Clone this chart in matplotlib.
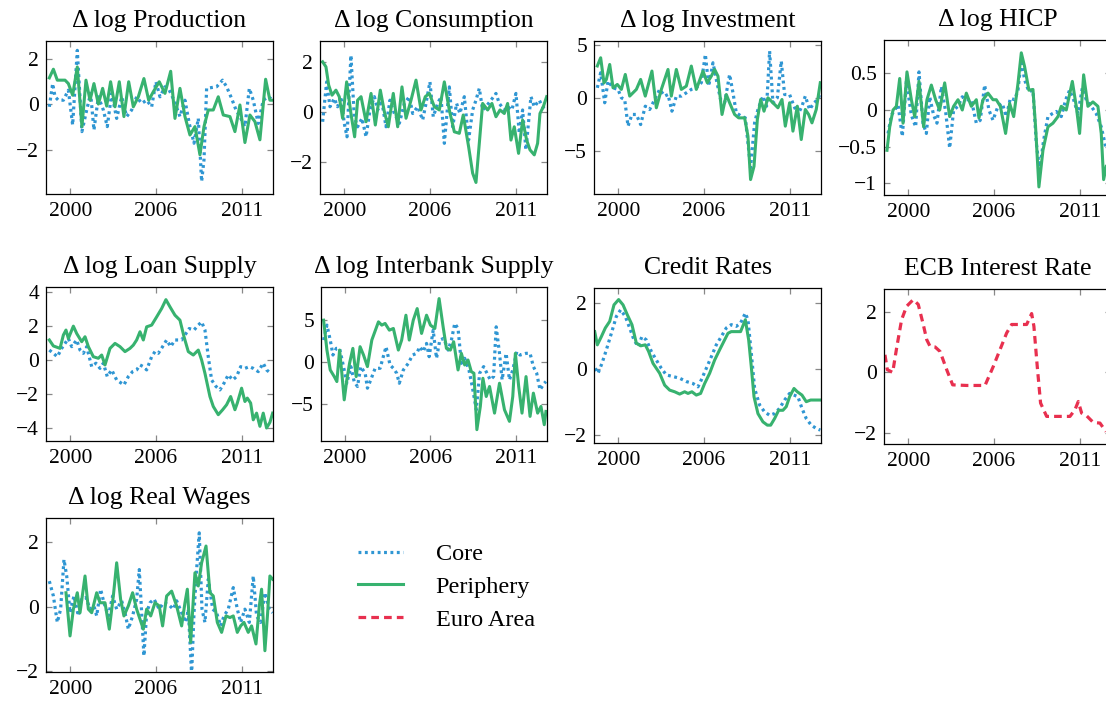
import matplotlib
matplotlib.use("Agg")
import matplotlib.pyplot as plt
from matplotlib.lines import Line2D
from matplotlib.ticker import FuncFormatter

# time axis: months since Jan 1999; ticks are labelled at these positions
TICK_POS = [12, 84, 156]
TICK_LABELS = ["2000", "2006", "2011"]

# (month, value) pairs
prod_core = [(-5.6, -0.12), (-2.8, 0.90), (-0.8, 0.32), (2.0, 0.17), (6.2, 0.17), (10.4, 0.61), (14.0, -0.92),
             (17.9, 2.36), (21.8, -1.21), (25.8, -0.26), (29.1, 0.47), (31.9, -1.14), (35.6, 0.32), (39.8, -0.26),
             (43.1, -0.99), (46.8, 0.47), (51.0, -0.63), (55.2, 0.32), (59.4, -0.55), (63.6, -0.26), (67.8, 0.32),
             (72.0, 0.03), (76.2, 0.17), (80.4, -0.12), (84.0, 0.98), (87.4, 0.32), (91.6, 0.76), (95.2, 0.61),
             (99.2, 0.17), (104.2, -0.55), (108.4, 0.17), (112.0, -0.85), (116.0, -1.72), (119.6, -0.63),
             (122.4, -3.40), (124.4, -2.45), (126.6, 0.69), (135.0, 0.76), (140.0, 1.05), (143.4, 0.76),
             (147.6, 0.25), (151.3, -0.26), (154.6, -0.55), (158.8, -0.99), (162.5, 0.69), (165.8, 0.17),
             (170.0, -0.85), (174.2, 0.17), (178.4, 0.32), (182.6, 0.17)]
prod_peri = [(-5.6, 1.15), (-2.2, 1.53), (1.1, 1.05), (7.6, 1.05), (10.4, 0.90), (14.0, 0.39), (17.9, 1.63),
             (21.8, -0.99), (25.2, 1.05), (28.6, 0.17), (31.9, 0.90), (35.6, 0.0), (39.2, 0.69), (42.6, -0.09),
             (45.9, 0.98), (49.6, -0.12), (53.2, 0.98), (57.1, -0.55), (61.1, 0.98), (65.0, -0.12), (69.2, 0.32),
             (73.9, 1.12), (77.9, 0.17), (81.8, 0.54), (86.8, 0.98), (91.6, 0.47), (96.4, 1.44), (100.0, -0.63),
             (104.2, 0.69), (108.4, -0.55), (112.6, -1.36), (116.8, -0.99), (121.0, -2.23), (124.4, -0.99),
             (128.0, -0.26), (132.2, -0.26), (136.4, 0.32), (140.6, -0.48), (146.2, -0.55), (150.4, -1.21),
             (154.6, -0.04), (158.8, -1.69), (163.0, -0.48), (167.2, -0.77), (171.4, -1.57), (176.2, 1.09),
             (179.8, 0.17), (182.6, 0.17)]

cons_core = [(-6.2, -0.40), (-2.8, 1.19), (0.0, 0.20), (3.6, 0.53), (6.4, 0.20), (9.2, 0.60), (12.0, -0.46),
             (14.3, -1.0), (17.6, 2.25), (20.4, -0.20), (23.2, -0.60), (26.9, -0.26), (30.3, -1.0), (33.6, 0.07),
             (37.3, 0.60), (40.1, 0.07), (43.4, 0.46), (47.1, -0.60), (50.4, 0.46), (54.1, -0.07), (58.3, -0.46),
             (62.5, 0.33), (66.7, 0.60), (69.5, -0.07), (73.7, 0.20), (77.9, -0.33), (80.7, 0.33), (84.0, 1.19),
             (86.8, -0.20), (90.5, 0.33), (93.3, 0.60), (96.1, -1.26), (100.3, 0.99), (103.1, -0.60),
             (106.4, 0.33), (109.2, -0.07), (112.9, 0.60), (116.5, -1.13), (119.9, 0.07), (122.7, 0.46),
             (125.5, 0.93), (128.3, 0.07), (131.1, 0.20), (135.3, 0.46), (139.5, 0.73), (142.3, 0.33),
             (146.5, 0.07), (149.3, 0.20), (152.9, 0.07), (156.3, 0.73), (159.1, -0.86), (161.9, 0.07),
             (164.7, -1.52), (168.9, 0.60), (171.7, 0.20), (175.9, 0.46), (178.7, 0.20), (182.1, 0.07)]
cons_peri = [(-6.2, 1.99), (-3.4, 1.79), (-1.1, 1.06), (1.7, 0.66), (5.0, 0.86), (7.8, 0.60), (10.6, -0.26),
             (14.0, 1.19), (17.6, -0.07), (20.7, -1.0), (23.2, 0.46), (26.1, 0.60), (30.3, -0.40), (34.5, 0.73),
             (38.1, -0.53), (42.3, 0.86), (45.7, 0.0), (49.0, -0.60), (53.2, 0.73), (56.9, -0.60), (60.5, 0.99),
             (63.9, -0.26), (68.1, 0.46), (72.3, 1.26), (76.5, 0.07), (80.1, 0.60), (83.5, 0.73), (87.7, 0.20),
             (91.9, 0.07), (96.1, 1.19), (100.3, 0.07), (104.5, -0.80), (108.7, -0.86), (112.0, -0.13),
             (116.5, -1.39), (119.9, -2.45), (122.7, -2.82), (125.5, -1.26), (128.3, 0.33), (132.5, 0.07),
             (136.1, 0.33), (139.5, -0.20), (142.9, 0.07), (146.5, -0.07), (149.3, 0.33), (152.1, -1.13),
             (154.9, -0.60), (158.5, -1.66), (161.9, -0.33), (165.3, -1.13), (168.1, -1.52), (171.7, -1.72),
             (174.5, -1.26), (176.5, -0.07), (179.3, 0.20), (182.1, 0.60)]

inv_core = [(-5.6, 0.94), (-2.8, 2.36), (0.6, -0.47), (3.4, 1.57), (7.6, 0.94), (11.8, 0.79), (14.6, 0.0),
            (17.4, -0.16), (20.2, -2.67), (23.5, -1.57), (27.2, -1.57), (30.8, -2.52), (34.7, -0.79),
            (38.4, -1.10), (42.6, -0.16), (46.8, 0.79), (51.0, 0.16), (53.8, 0.31), (57.1, -1.26), (60.8, 0.16),
            (65.0, 0.16), (69.2, 0.47), (73.4, 0.79), (77.6, 0.94), (81.8, 1.42), (85.2, 4.09), (88.0, 1.10),
            (91.6, 3.30), (94.4, 1.73), (98.0, -0.16), (101.4, -0.47), (105.6, 2.20), (108.4, 0.47),
            (111.2, -1.42), (115.4, -1.73), (118.8, -1.89), (123.2, -6.6), (126.6, -2.36), (129.4, -1.10),
            (133.6, 0.16), (136.7, -0.79), (139.2, 4.4), (142.0, -0.47), (145.7, 0.0), (149.0, 3.46),
            (151.8, 0.31), (156.0, 0.31), (159.7, -0.79), (163.0, -1.57), (166.4, -0.79), (169.2, 0.16),
            (172.8, -1.10), (176.5, -0.47), (179.8, -0.16), (181.8, 0.47)]
inv_peri = [(-5.6, 3.0), (-2.8, 3.77), (0.0, 1.4), (2.0, 1.73), (4.8, 3.14), (7.6, 0.94), (11.2, 1.26),
            (14.6, 0.79), (17.9, 2.2), (21.6, 0.16), (27.2, 0.79), (30.8, 1.73), (34.7, 0.16), (40.3, 2.52),
            (44.0, -0.94), (48.2, 0.79), (53.8, 2.67), (56.6, 0.16), (60.8, 2.67), (65.0, 0.79), (69.2, 1.10),
            (73.4, 2.99), (77.6, 0.79), (83.2, 2.52), (86.8, 1.42), (90.2, 2.04), (93.0, 2.67), (95.8, 2.04),
            (99.2, -1.57), (102.8, 0.31), (105.6, -0.47), (109.8, -1.57), (113.2, -1.89), (118.2, -1.89),
            (121.0, -3.62), (123.2, -7.7), (126.1, -6.45), (128.9, -2.04), (131.7, -0.16), (134.5, -1.26),
            (137.8, 0.0), (142.0, -0.47), (146.2, -0.94), (149.6, -0.16), (152.4, -2.67), (156.0, -0.47),
            (158.8, -3.14), (162.5, -0.79), (165.8, -3.93), (169.2, -1.10), (172.0, -1.57), (174.8, -2.36),
            (178.4, -1.10), (181.8, 1.42)]

hicp_core = [(-5.0, -0.32), (-2.2, -0.07), (0.6, 0.0), (3.4, 0.07), (7.0, -0.36), (10.4, 0.39), (14.6, -0.07),
             (18.2, -0.23), (21.0, 0.52), (24.4, -0.18), (27.2, -0.32), (30.0, 0.18), (33.3, -0.07),
             (36.1, -0.18), (39.8, 0.32), (43.4, -0.02), (46.8, -0.52), (50.1, 0.0), (53.8, 0.05), (57.4, 0.18),
             (60.8, 0.14), (65.0, 0.14), (69.2, -0.18), (72.5, -0.14), (76.2, 0.34), (79.8, 0.0), (83.2, -0.14),
             (87.4, 0.05), (91.0, 0.09), (94.4, -0.09), (97.8, 0.16), (101.4, 0.14), (104.2, 0.27), (107.0, 0.68),
             (109.8, 0.41), (113.4, 0.25), (116.8, 0.27), (119.6, -0.45), (122.4, -0.82), (125.8, -0.41),
             (129.4, -0.09), (133.1, -0.05), (136.4, -0.02), (140.6, -0.09), (144.3, 0.14), (147.6, 0.27),
             (151.0, 0.14), (154.6, -0.05), (158.3, 0.30), (161.6, 0.14), (165.8, 0.05), (170.0, -0.05),
             (174.2, -0.23), (177.9, -0.50)]
hicp_peri = [(-5.9, -0.55), (-3.6, -0.23), (-0.8, 0.0), (2.0, 0.05), (4.8, 0.43), (7.6, -0.18), (10.9, 0.52),
             (14.6, 0.14), (17.4, -0.09), (21.0, 0.39), (24.9, -0.23), (27.7, 0.14), (31.4, 0.34), (35.0, 0.14),
             (38.4, 0.0), (42.6, 0.37), (46.8, -0.09), (50.1, 0.05), (53.8, 0.14), (57.4, 0.0), (60.8, 0.23),
             (65.0, 0.05), (69.2, 0.14), (71.4, -0.11), (74.8, 0.14), (79.0, 0.23), (83.2, 0.14), (86.0, 0.14),
             (89.4, 0.05), (93.8, -0.32), (97.2, 0.09), (100.6, -0.09), (104.2, 0.36), (107.0, 0.78),
             (109.8, 0.59), (113.4, 0.27), (116.8, 0.28), (119.0, -0.23), (121.8, -1.05), (125.2, -0.55),
             (129.4, -0.23), (133.6, -0.18), (137.8, -0.09), (140.6, 0.05), (144.8, 0.0), (149.9, 0.39),
             (153.2, 0.05), (156.0, -0.32), (159.4, 0.48), (163.0, 0.05), (167.2, 0.11), (171.4, 0.05),
             (174.2, -0.32), (176.2, -0.95), (178.4, -0.77)]

loan_core = [(-5.6, 0.58), (-2.2, 0.39), (1.1, 0.19), (4.8, 0.68), (7.6, 0.97), (10.4, 1.26), (13.2, 0.78),
             (17.4, 1.17), (20.2, 0.58), (23.0, 0.39), (25.8, 0.78), (30.0, -0.39), (33.6, -0.19), (37.0, -0.49),
             (39.8, -0.19), (43.1, -0.97), (46.8, -0.58), (51.0, -1.17), (57.1, -1.46), (60.8, -0.97),
             (64.4, -0.68), (67.8, -0.58), (70.6, -0.29), (73.4, -0.39), (76.2, -0.58), (80.4, 0.19), (83.2, 0.49),
             (86.0, 0.39), (89.6, 0.78), (93.0, 1.17), (96.4, 0.78), (100.0, 1.17), (105.6, 1.17), (108.4, 1.46),
             (112.0, 1.84), (116.0, 1.75), (119.6, 2.04), (122.4, 2.23), (125.2, 1.75), (128.0, 0.19),
             (130.8, -1.17), (134.5, -1.55), (137.8, -1.75), (141.2, -1.36), (144.8, -0.87), (148.5, -1.17),
             (151.8, -0.97), (155.2, -0.39), (158.8, -0.49), (162.5, -0.39), (165.8, -0.49), (170.0, -0.68),
             (174.2, -0.19), (177.0, -0.58), (180.4, -0.78)]
loan_peri = [(-5.6, 1.17), (-2.2, 0.82), (3.4, 0.68), (6.2, 1.46), (8.4, 1.75), (10.4, 1.26), (14.6, 1.98),
             (17.4, 1.55), (21.6, 1.07), (24.4, 1.36), (27.2, 0.78), (31.4, 0.19), (35.6, 0.10), (38.4, 0.29),
             (41.2, -0.29), (45.4, 0.68), (49.6, 0.97), (53.8, 0.78), (58.0, 0.49), (62.2, 0.68), (65.0, 0.87),
             (67.8, 1.17), (70.6, 1.65), (73.4, 1.17), (76.2, 1.94), (80.4, 2.04), (84.6, 2.52), (88.8, 3.01),
             (92.4, 3.53), (95.8, 3.11), (100.0, 2.62), (104.2, 2.33), (107.6, 1.36), (111.2, 0.49),
             (115.4, 0.29), (119.6, 0.58), (122.4, 0.0), (125.2, -0.78), (129.4, -2.14), (132.2, -2.72),
             (136.4, -3.20), (140.1, -2.91), (143.4, -2.62), (146.8, -2.14), (150.4, -2.91), (152.4, -2.52),
             (156.0, -1.65), (158.8, -2.43), (160.8, -2.23), (163.6, -2.52), (165.8, -3.50), (168.6, -3.11),
             (171.4, -3.88), (174.2, -3.11), (177.0, -3.98), (179.8, -3.65), (182.1, -3.11)]

ib_core = [(-6.2, 2.57), (-3.4, 4.35), (-0.6, 2.57), (1.7, 0.79), (4.5, 1.58), (7.3, 1.58), (10.6, -0.59),
           (13.4, -2.57), (16.8, -0.59), (19.6, -2.37), (22.4, -2.96), (25.2, -0.59), (28.9, -1.38), (30.8, -3.16),
           (33.6, -2.17), (37.3, -0.79), (41.5, -0.79), (46.5, 1.78), (49.9, -0.40), (52.7, -0.79), (55.5, -1.38),
           (57.7, -2.57), (61.1, -0.99), (65.3, -0.20), (68.9, 0.79), (72.3, 0.99), (75.1, 1.78), (77.9, 1.19),
           (80.7, 2.17), (82.9, 0.59), (86.3, 3.75), (89.1, 0.40), (91.9, 2.57), (95.2, 2.77), (98.9, 1.38),
           (101.7, 2.57), (104.5, 4.55), (107.3, 3.95), (110.1, -0.20), (112.9, 0.40), (116.5, -0.99),
           (119.3, -2.96), (122.7, -5.73), (125.5, -1.38), (128.9, -0.59), (131.7, -1.38), (134.5, -2.17),
           (137.3, -1.78), (139.5, 4.15), (142.3, 0.99), (144.5, -2.17), (147.9, 0.99), (150.7, -2.17),
           (153.5, -0.99), (156.9, 1.19), (159.7, 0.79), (164.7, 0.99), (168.1, 0.99), (170.9, -0.59),
           (173.7, -1.38), (176.5, -3.36), (180.1, -2.57), (181.5, -2.37)]
ib_peri = [(-6.2, 4.94), (-3.4, 1.38), (-0.6, -0.99), (2.8, -1.78), (5.0, -2.37), (7.3, 1.38), (9.2, -1.38),
           (11.2, -4.55), (13.4, -2.17), (15.7, -0.20), (18.5, 1.58), (21.3, -1.78), (24.6, 1.78), (27.5, 0.79),
           (30.8, -0.59), (34.5, 2.57), (40.1, 4.74), (42.9, 4.35), (45.7, 4.55), (49.3, 3.75), (52.7, 3.95),
           (56.9, 1.38), (59.7, 2.57), (63.3, 5.53), (66.1, 2.57), (69.5, 4.94), (72.8, 6.32), (76.5, 3.36),
           (80.7, 5.53), (84.0, 4.35), (87.7, 3.95), (91.3, 7.51), (94.7, 4.15), (97.5, 1.58), (100.8, 1.38),
           (103.6, 2.37), (107.3, -0.99), (110.1, 0.99), (112.9, -0.40), (115.7, 0.20), (118.5, -1.19),
           (120.7, -1.38), (123.2, -8.10), (126.1, -5.34), (128.3, -1.98), (131.1, -4.15), (133.9, -2.96),
           (138.1, -6.13), (142.3, -2.57), (146.5, -5.73), (150.7, -7.11), (153.5, -4.15), (155.7, 0.99),
           (158.5, -2.96), (161.3, -6.13), (164.7, -1.78), (168.1, -6.52), (170.9, -3.75), (174.5, -6.13),
           (177.3, -5.34), (180.1, -7.51), (181.5, -5.93)]

credit_core = [(-7.3, 0.03), (-5.0, -0.12), (-1.7, 0.18), (2.0, 0.59), (6.2, 1.09), (10.4, 1.60), (14.0, 1.80),
               (17.9, 1.60), (21.6, 1.25), (25.2, 0.89), (28.6, 0.69), (31.9, 0.99), (35.6, 0.89), (39.8, 0.54),
               (44.0, 0.28), (48.2, 0.03), (52.4, -0.17), (58.0, -0.22), (63.6, -0.27), (69.2, -0.37),
               (74.8, -0.43), (79.0, -0.53), (81.8, -0.32), (86.0, 0.03), (90.2, 0.38), (94.4, 0.74), (98.6, 0.99),
               (102.8, 1.25), (107.0, 1.35), (111.2, 1.30), (114.8, 1.40), (118.8, 1.70), (121.0, 1.50),
               (123.8, 0.49), (126.6, -0.58), (130.8, -1.08), (135.0, -1.29), (139.2, -1.39), (143.4, -1.34),
               (147.6, -1.18), (151.8, -0.93), (156.0, -0.73), (159.7, -0.78), (163.0, -0.83), (166.4, -1.18),
               (170.0, -1.49), (174.2, -1.69), (178.4, -1.79), (181.8, -1.84)]
credit_peri = [(-7.8, 1.14), (-5.6, 0.74), (-2.2, 0.99), (1.1, 1.25), (4.8, 1.45), (8.4, 1.95), (12.3, 2.11),
               (16.0, 1.95), (19.6, 1.65), (23.5, 1.35), (27.2, 0.79), (30.8, 0.71), (34.7, 0.74), (37.5, 0.54),
               (41.2, 0.18), (46.8, -0.12), (51.0, -0.48), (55.2, -0.63), (59.4, -0.68), (63.6, -0.75),
               (67.8, -0.68), (70.6, -0.73), (73.9, -0.68), (77.6, -0.78), (81.2, -0.73), (84.6, -0.43),
               (88.8, -0.12), (93.0, 0.28), (97.2, 0.59), (101.4, 0.89), (104.2, 1.09), (107.0, 1.14),
               (111.2, 1.14), (114.8, 1.14), (118.8, 1.50), (121.6, 0.89), (123.8, 0.08), (126.1, -0.83),
               (129.4, -1.34), (133.6, -1.59), (137.3, -1.69), (140.1, -1.69), (143.4, -1.49), (146.8, -1.24),
               (150.4, -1.24), (153.2, -1.13), (156.0, -0.83), (159.7, -0.58), (162.5, -0.68), (166.4, -0.78),
               (170.0, -0.98), (173.7, -0.93), (177.0, -0.93), (181.8, -0.93)]

ecb_rate = [(-7.6, 0.58), (-5.6, 0.09), (-1.1, 0.0), (2.2, 0.80), (6.4, 1.74), (10.6, 2.18), (16.2, 2.40),
            (20.4, 2.24), (24.6, 1.58), (27.5, 1.08), (30.3, 0.86), (34.5, 0.84), (38.7, 0.69), (44.3, 0.09),
            (49.3, -0.41), (61.1, -0.43), (76.5, -0.43), (83.5, 0.20), (89.1, 0.75), (94.7, 1.30), (98.9, 1.58),
            (111.5, 1.58), (115.7, 1.94), (117.6, 1.52), (120.4, 0.20), (123.2, -1.01), (128.3, -1.45),
            (147.9, -1.45), (152.1, -1.23), (154.9, -0.96), (157.7, -1.34), (161.9, -1.43), (167.5, -1.65),
            (173.1, -1.67), (178.2, -1.95)]

wage_core = [(-5.6, 0.80), (-2.2, 0.34), (1.1, -0.48), (3.9, -0.07), (6.7, 1.47), (9.0, 0.96), (11.8, -0.18),
             (15.1, 0.34), (18.8, -0.28), (21.6, 0.24), (25.2, 0.29), (28.6, -0.07), (31.9, 0.03), (34.2, -0.28),
             (37.5, 0.55), (40.3, 0.13), (44.0, -0.28), (47.6, 0.34), (51.0, -0.07), (55.2, 0.19), (58.0, -0.18),
             (60.8, -0.69), (64.4, -0.28), (67.8, 0.24), (70.0, 1.16), (72.0, -0.18), (73.9, -1.52), (76.2, -0.18),
             (79.0, 0.13), (82.4, 0.24), (86.8, -0.07), (90.2, 0.13), (94.4, 0.08), (98.6, -0.07), (101.4, 0.19),
             (105.6, -0.18), (109.2, -0.48), (111.2, -0.07), (114.0, -2.10), (116.0, -0.18), (118.2, 1.16),
             (120.4, 2.30), (122.7, -0.07), (125.2, -0.48), (128.0, 0.86), (131.7, -0.07), (135.0, -0.18),
             (138.4, -0.59), (141.2, -0.28), (144.8, -0.07), (149.0, 0.60), (152.4, -0.07), (155.2, -0.48),
             (158.8, -0.07), (162.5, -0.48), (165.8, 0.96), (168.6, -0.28), (172.0, -0.48), (175.6, 0.44),
             (179.3, -0.07), (182.1, -0.18)]
wage_peri = [(8.4, 0.44), (11.8, -0.90), (14.6, -0.07), (17.9, 0.44), (20.2, -0.18), (24.4, 0.96), (27.2, -0.07),
             (30.0, -0.18), (34.2, 0.44), (37.0, 0.13), (41.2, 0.13), (44.8, -0.69), (48.2, 0.34), (51.0, 1.37),
             (54.3, 0.24), (57.1, -0.28), (60.8, 0.03), (64.4, 0.44), (67.8, -0.07), (70.6, -0.38), (73.4, -0.69),
             (76.2, -0.07), (79.6, -0.28), (83.2, 0.13), (86.8, 0.03), (89.6, -0.59), (93.0, 0.34), (97.2, 0.49),
             (101.4, 0.03), (105.6, -0.59), (108.4, 0.13), (110.4, 0.55), (113.2, -1.10), (116.8, 1.06),
             (119.6, 0.65), (122.4, 1.37), (126.1, 1.89), (129.4, 0.44), (132.2, 0.34), (135.6, -0.48),
             (139.2, -0.79), (142.9, -0.28), (146.2, -0.33), (149.0, -0.28), (152.4, -0.79), (155.2, -0.59),
             (158.0, -0.48), (161.6, -0.79), (164.4, -0.59), (168.1, -1.15), (170.9, 0.03), (172.8, 0.55),
             (175.6, -1.36), (177.9, -0.18), (179.8, 0.96), (182.1, 0.86)]

TITLES = ["\u0394 log Production", "\u0394 log Consumption", "\u0394 log Investment", "\u0394 log HICP",
          "\u0394 log Loan Supply", "\u0394 log Interbank Supply", "Credit Rates", "ECB Interest Rate",
          "\u0394 log Real Wages"]
YLIMS = [(-3.95, 2.77), (-3.28, 2.82), (-9.06, 5.35), (-1.16, 0.955), (-4.74, 4.27),
         (-9.45, 8.89), (-2.23, 2.46), (-2.36, 2.75), (-2.02, 2.76)]
YTICKS = [[-2, 0, 2], [-2, 0, 2], [-5, 0, 5], [-1, -0.5, 0, 0.5], [-4, -2, 0, 2, 4],
          [-5, 0, 5], [-2, 0, 2], [-2, 0, 2], [-2, 0, 2]]
SERIES = [(prod_core, prod_peri), (cons_core, cons_peri), (inv_core, inv_peri), (hicp_core, hicp_peri),
          (loan_core, loan_peri), (ib_core, ib_peri), (credit_core, credit_peri), (None, None),
          (wage_core, wage_peri)]

BLUE = "#2f96d3"
GREEN = "#37b26f"
RED = "#e8304f"
W, H = 1106, 702

# axes boxes in pixels: left, top, width, height
BOXES = [(46, 41, 227, 153), (320, 41, 227, 153), (594, 41, 227, 153), (884, 40, 227, 155),
         (46, 287, 227, 154), (321, 287, 226, 154), (594, 288, 227, 155), (884, 289, 227, 155),
         (46, 518, 227, 154)]

plt.rcParams["font.family"] = ["Liberation Serif", "DejaVu Serif"]
plt.rcParams["font.size"] = 15
plt.rcParams["axes.unicode_minus"] = True

core_style = dict(color=BLUE, lw=2.3, ls=(0, (0.9, 1.1)))
peri_style = dict(color=GREEN, lw=2.2, ls="-")
ea_style = dict(color=RED, lw=2.3, ls=(0, (2.4, 1.6)))

fmt = FuncFormatter(lambda v, p: f"{v:g}".replace("-", "\u2212"))

fig = plt.figure(figsize=(W / 100, H / 100), dpi=100)

for i, (l, t, w, h) in enumerate(BOXES):
    ax = fig.add_axes([l / W, 1 - (t + h) / H, w / W, h / H])
    core, peri = SERIES[i]
    if core is not None:
        x, y = zip(*core)
        ax.plot(x, y, **core_style)
        x, y = zip(*peri)
        ax.plot(x, y, **peri_style)
    else:
        x, y = zip(*ecb_rate)
        ax.plot(x, y, **ea_style)
    ax.set_xlim(-8.4, 182.4)
    ax.set_ylim(*YLIMS[i])
    ax.set_xticks(TICK_POS)
    ax.set_xticklabels(TICK_LABELS)
    ax.set_yticks(YTICKS[i])
    ax.yaxis.set_major_formatter(fmt)
    ax.tick_params(direction="in", length=4, width=0.9, color="#888888",
                   top=True, right=True, labelsize=15.5, pad=5)
    ax.tick_params(axis="x", pad=6)
    for s in ax.spines.values():
        s.set_linewidth(0.9)
    ax.set_title(TITLES[i], fontsize=18.5, pad=10)

handles = [Line2D([], [], **core_style), Line2D([], [], **peri_style), Line2D([], [], **ea_style)]
fig.legend(handles, ["Core", "Periphery", "Euro Area"], loc="upper left",
           bbox_to_anchor=(358 / W, 1 - 543 / H), frameon=False, fontsize=17.5,
           handlelength=1.85, handletextpad=1.35, labelspacing=0.45, borderpad=0, borderaxespad=0)

fig.savefig("out.png", dpi=100)
